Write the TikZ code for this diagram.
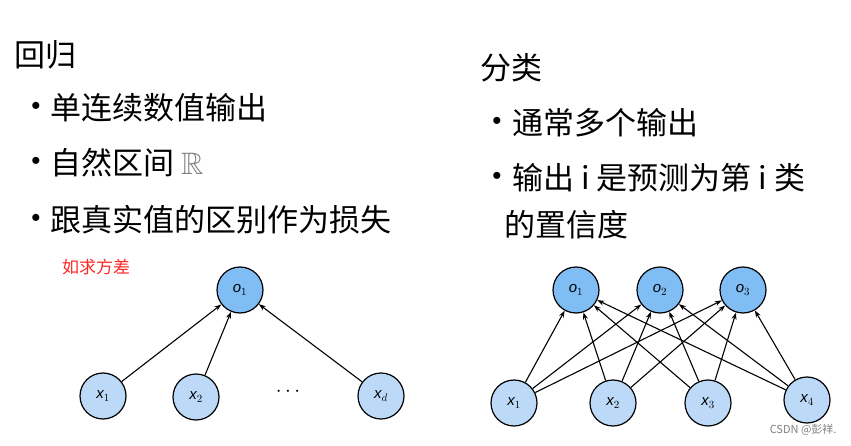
\documentclass[tikz,border=0pt]{standalone}
\usepackage{amssymb}
\usepackage{fontspec}
\setmainfont{Liberation Sans}
\newfontfamily\cjk{Noto Sans CJK SC}
\usetikzlibrary{arrows.meta}
\definecolor{oc}{HTML}{80BDF5}
\definecolor{xc}{HTML}{BCDAF8}
\begin{document}
\begin{tikzpicture}[x=1pt,y=-1pt,
  nd/.style={circle,draw=black,line width=1.2pt,minimum size=46pt,inner sep=0pt,font=\fontsize{15}{15}\selectfont\itshape},
  on/.style={nd,fill=oc}, xn/.style={nd,fill=xc},
  ar/.style={-{Stealth[length=7pt,width=5pt]},line width=1.1pt},
  big/.style={font=\cjk\fontsize{31}{34}\selectfont,anchor=west,inner sep=0pt},
  bul/.style={font=\fontsize{26}{26}\selectfont,inner sep=0pt}]
\useasboundingbox (0,0) rectangle (851,446);
\node[big] (t1) at (14,55) {回归};
\node[bul] (b1) at (36,108) {•};
\node[big] (l1) at (50,108) {单连续数值输出};
\node[bul] (b2) at (36,163) {•};
\node[big] (l2) at (50,163) {自然区间 {\color{gray}$\mathbb{R}$}};
\node[bul] (b3) at (36,220) {•};
\node[big] (l3) at (50,220) {跟真实值的区别作为损失};
\node[big,font=\cjk\fontsize{17}{17}\selectfont,text=red!85!white] (r) at (62,267) {如求方差};
\node[big] (t2) at (480,68) {分类};
\node[bul] (b4) at (497,123) {•};
\node[big] (l4) at (512,123) {通常多个输出};
\node[bul] (b5) at (497,178) {•};
\node[big] (l5) at (512,178) {输出 i 是预测为第 i 类};
\node[big] (l6) at (504,225) {的置信度};
% left net
\node[on] (o) at (240,290) {o$_1$};
\node[xn] (a1) at (103,396) {x$_1$};
\node[xn] (a2) at (196,397) {x$_2$};
\node[font=\fontsize{20}{20}\selectfont] (dots) at (288,392) {$\cdots$};
\node[xn] (ad) at (381,396) {x$_d$};
\foreach \n in {a1,a2,ad} \draw[ar] (\n) -- (o);
% right net
\node[on] (p1) at (576,290) {o$_1$};
\node[on] (p2) at (660,290) {o$_2$};
\node[on] (p3) at (743,290) {o$_3$};
\node[xn] (q1) at (514,403) {x$_1$};
\node[xn] (q2) at (613,403) {x$_2$};
\node[xn] (q3) at (708,403) {x$_3$};
\node[xn] (q4) at (807,400) {x$_4$};
\foreach \i in {q1,q2,q3,q4} \foreach \j in {p1,p2,p3} \draw[ar] (\i) -- (\j);
\node[font=\cjk\fontsize{11}{11}\selectfont,text=gray,anchor=east] (w) at (840,430) {CSDN @彭祥.};
\end{tikzpicture}
\end{document}
